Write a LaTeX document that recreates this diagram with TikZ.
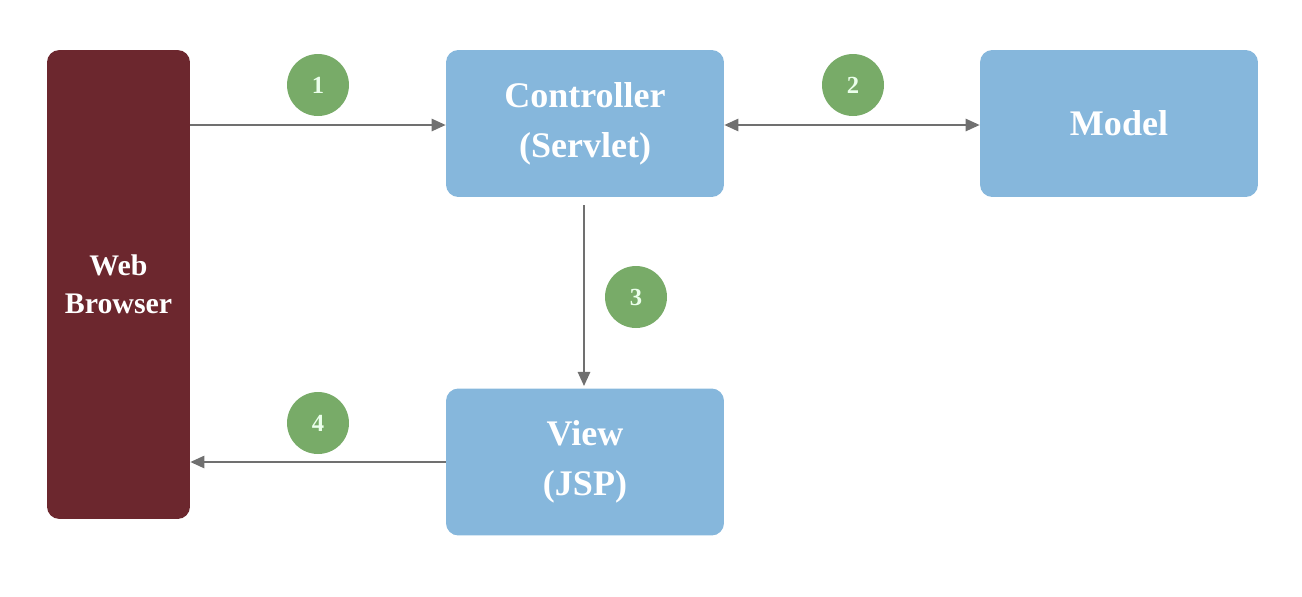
\documentclass[tikz,border=0pt]{standalone}
\usepackage{fontspec}
\setmainfont{Liberation Serif}
\usetikzlibrary{arrows.meta}
\definecolor{maroon}{HTML}{6C272E}
\definecolor{boxblue}{HTML}{86B7DC}
\definecolor{stepgreen}{HTML}{78AB68}
\definecolor{linegray}{HTML}{707070}
\tikzset{
  browserbox/.style={fill=maroon, rounded corners=7pt, inner sep=0pt, text=white, font=\bfseries\fontsize{17}{21.5}\selectfont, align=center},
  bluebox/.style={fill=boxblue, rounded corners=7pt, inner sep=0pt, minimum width=5.56cm, minimum height=2.94cm, text=white, font=\bfseries\fontsize{20.5}{28.5}\selectfont, align=center},
  stepcircle/.style={circle, fill=stepgreen, minimum size=1.24cm, inner sep=0pt, text=white!92!green, font=\bfseries\fontsize{14}{16}\selectfont},
  flow/.style={draw=linegray, line width=1.1pt, -{Triangle[length=8pt,width=7pt]}},
  flowboth/.style={draw=linegray, line width=1.1pt, {Triangle[length=8pt,width=7pt]}-{Triangle[length=8pt,width=7pt]}}
}
\begin{document}
\begin{tikzpicture}[x=0.02cm,y=-0.02cm]
\useasboundingbox (0,0) rectangle (1302,596);
\node[browserbox, minimum width=2.86cm, minimum height=9.38cm] (web) at (118.5,284.5) {Web\\Browser};
\node[bluebox] (ctrl) at (585,123.5) {Controller\\(Servlet)};
\node[bluebox] (model) at (1119,123.5) {Model};
\node[bluebox] (view) at (585,462) {View\\(JSP)};
\node[stepcircle] (s1) at (318,85) {1};
\node[stepcircle] (s2) at (853,85) {2};
\node[stepcircle] (s3) at (636,297) {3};
\node[stepcircle] (s4) at (318,423) {4};
\coordinate (a1) at (web.east |- 0,125);
\coordinate (b1) at (ctrl.west |- 0,125);
\draw[flow] (a1) -- (b1);
\coordinate (a2) at (ctrl.east |- 0,125);
\coordinate (b2) at (model.west |- 0,125);
\draw[flowboth] (a2) -- (b2);
\coordinate (a3) at (584,205);
\coordinate (b3) at (584,386);
\draw[flow] (a3) -- (b3);
\coordinate (a4) at (view.west |- 0,462);
\coordinate (b4) at (web.east |- 0,462);
\draw[flow] (a4) -- (b4);
\end{tikzpicture}
\end{document}
